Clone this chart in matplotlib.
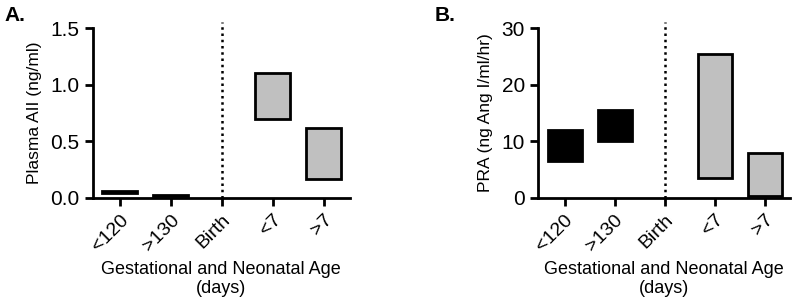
import numpy as np
import matplotlib.pyplot as plt

plt.rcParams['font.family'] = ['Liberation Sans', 'DejaVu Sans']

categories = ['<120', '>130', 'Birth', '<7', '>7']
bar_cats = ['<120', '>130', '<7', '>7']
bar_colors = ['black', 'black', '#c0c0c0', '#c0c0c0']

# floating bars: (low, high)
aii_low = [0.04, 0.02, 0.70, 0.17]
aii_high = [0.06, 0.03, 1.10, 0.62]
pra_low = [6.5, 10.0, 3.5, 0.3]
pra_high = [12.0, 15.5, 25.5, 8.0]

fig = plt.figure(figsize=(8, 3.06), dpi=100)
axA = fig.add_axes([0.116, 0.353, 0.321, 0.555])
axB = fig.add_axes([0.6725, 0.353, 0.315, 0.555])

xpos = np.arange(len(categories))
bar_x = [xpos[categories.index(c)] for c in bar_cats]


def draw(ax, low, high, ymax, yticks, yticklabels, ylabel, letter, lx):
    low = np.array(low)
    high = np.array(high)
    ax.bar(bar_x, high - low, bottom=low, width=0.68, color=bar_colors,
           edgecolor='black', linewidth=2, zorder=3)
    ax.axvline(xpos[2], ymin=0, ymax=1.035, color='black', linestyle=(0, (1, 1.5)),
               linewidth=1.8, clip_on=False)
    ax.set_xlim(-0.53, 4.51)
    ax.set_ylim(0, ymax)
    ax.set_yticks(yticks)
    ax.set_yticklabels(yticklabels, fontsize=15)
    ax.set_xticks(xpos)
    ax.set_xticklabels(categories, rotation=45, ha='right', rotation_mode='anchor',
                       fontsize=14)
    for s in ['top', 'right']:
        ax.spines[s].set_visible(False)
    for s in ['left', 'bottom']:
        ax.spines[s].set_linewidth(2)
    ax.tick_params(width=2, length=6)
    ax.set_ylabel(ylabel, fontsize=12.5, labelpad=6)
    ax.set_xlabel('Gestational and Neonatal Age\n(days)', fontsize=13, labelpad=5,
                  linespacing=1.1)
    fig.text(lx, 0.948, letter, fontsize=15, fontweight='bold', va='center')


draw(axA, aii_low, aii_high, 1.5, [0, 0.5, 1.0, 1.5], ['0.0', '0.5', '1.0', '1.5'],
     'Plasma AII (ng/ml)', 'A.', 0.006)
draw(axB, pra_low, pra_high, 30, [0, 10, 20, 30], ['0', '10', '20', '30'],
     'PRA (ng Ang I/ml/hr)', 'B.', 0.543)

fig.savefig('out.png', dpi=100)
